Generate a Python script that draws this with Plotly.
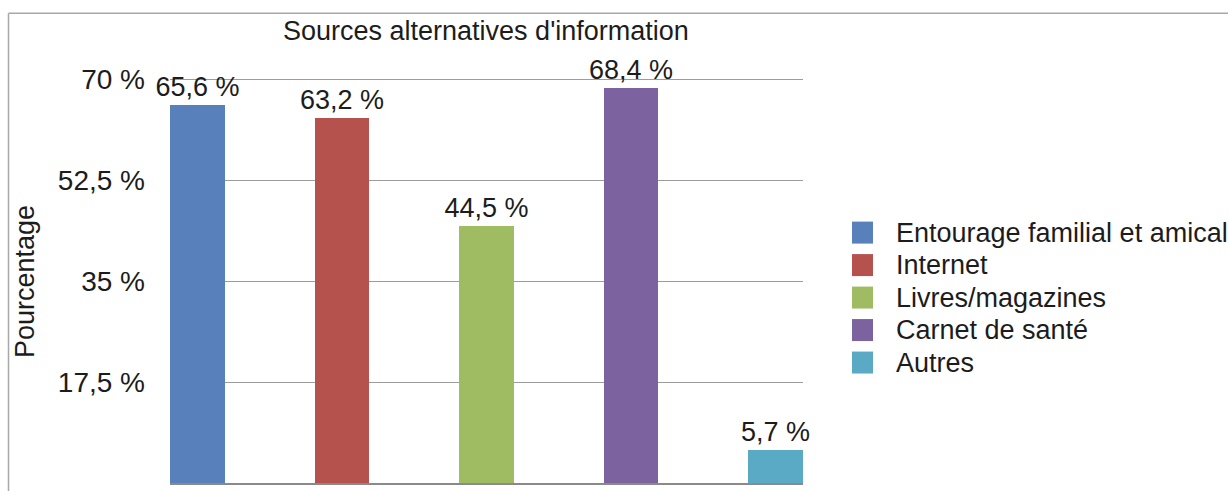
import plotly.graph_objects as go

categories = ["Entourage familial et amical", "Internet", "Livres/magazines", "Carnet de santé", "Autres"]
values = [65.6, 63.2, 44.5, 68.4, 5.7]
colors = ["#5880BA", "#B5524E", "#A0BC63", "#7D62A0", "#5AAAC6"]
tick_values = [0, 17.5, 35, 52.5, 70]
tick_labels = ["0 %", "17,5 %", "35 %", "52,5 %", "70 %"]
title_text = "Sources alternatives d'information"
y_title = "Pourcentage"

FONT = "Liberation Sans, Arial, Helvetica, sans-serif"
FS = 27
TICK_FS = 28
TXT = "#1c1c1c"

W, H = 1228, 491

# target screen geometry of the plot area
SX0, SX1 = 170, 803
SY70, SY0 = 79, 483
YTOP = 70.2
unit = (SY0 - SY70) / 70.0

L = SX0
R = W - SX1
B = H - SY0
T = SY0 - unit * YTOP
pw = W - L - R
ph = H - T - B


def px_x(x):
    return (x - L) / pw


def px_y(y):
    return (H - B - y) / ph


labels = [f"{v:.1f}".replace(".", ",") + " %" for v in values]

fig = go.Figure()
fig.add_trace(go.Bar(
    x=list(range(len(categories))),
    y=values,
    width=0.38,
    marker=dict(color=colors, line=dict(width=0)),
    text=labels,
    textposition="outside",
    constraintext="none",
    cliponaxis=False,
    textfont=dict(family=FONT, size=FS, color=TXT),
    hoverinfo="skip",
    showlegend=False,
))

shapes = [
    dict(type="line", xref="paper", yref="paper",
         x0=px_x(8.5), x1=px_x(8.5), y0=px_y(13), y1=px_y(H),
         line=dict(color="#a8a8a8", width=1.5), layer="above"),
    dict(type="line", xref="paper", yref="paper",
         x0=px_x(8.5), x1=px_x(W), y0=px_y(13), y1=px_y(13),
         line=dict(color="#a8a8a8", width=1.5), layer="above"),
]
annotations = [
    dict(text=title_text, xref="paper", yref="paper", x=px_x(485.5), y=px_y(31),
         xanchor="center", yanchor="middle", showarrow=False,
         font=dict(family=FONT, size=FS, color=TXT)),
    dict(text=y_title, xref="paper", yref="paper", x=px_x(25), y=px_y(282),
         xanchor="center", yanchor="middle", showarrow=False, textangle=-90,
         font=dict(family=FONT, size=FS, color=TXT)),
]

row_gap = 32.5
for i, (name, col) in enumerate(zip(categories, colors)):
    cy = 232.5 + row_gap * i
    shapes.append(dict(type="rect", xref="paper", yref="paper",
                       x0=px_x(852), x1=px_x(873), y0=px_y(cy - 11), y1=px_y(cy + 11),
                       fillcolor=col, line=dict(width=0)))
    annotations.append(dict(text=name, xref="paper", yref="paper",
                            x=px_x(894), y=px_y(cy), xanchor="left", yanchor="middle",
                            showarrow=False, font=dict(family=FONT, size=FS, color=TXT)))

fig.update_layout(
    width=W, height=H,
    margin=dict(l=L, r=R, t=T, b=B, pad=0),
    paper_bgcolor="white", plot_bgcolor="white",
    font=dict(family=FONT, size=FS, color=TXT),
    shapes=shapes,
    annotations=annotations,
    bargap=0,
    xaxis=dict(range=[-0.19, 4.19], showticklabels=False, showgrid=False,
               zeroline=False, showline=True, linecolor="#8a8a8a", linewidth=1.5,
               ticks="", fixedrange=True),
    yaxis=dict(range=[0, YTOP], tickvals=tick_values, ticktext=tick_labels,
               showgrid=True, gridcolor="#9c9c9c", gridwidth=1.2,
               zeroline=False, showline=False, ticks="",
               ticklabelstandoff=24,
               tickfont=dict(family=FONT, size=TICK_FS, color=TXT), fixedrange=True),
)

fig.write_html(
    "out.html",
    config={"displayModeBar": False},
    post_script="document.body.style.margin='0';document.body.style.overflow='hidden';",
)
